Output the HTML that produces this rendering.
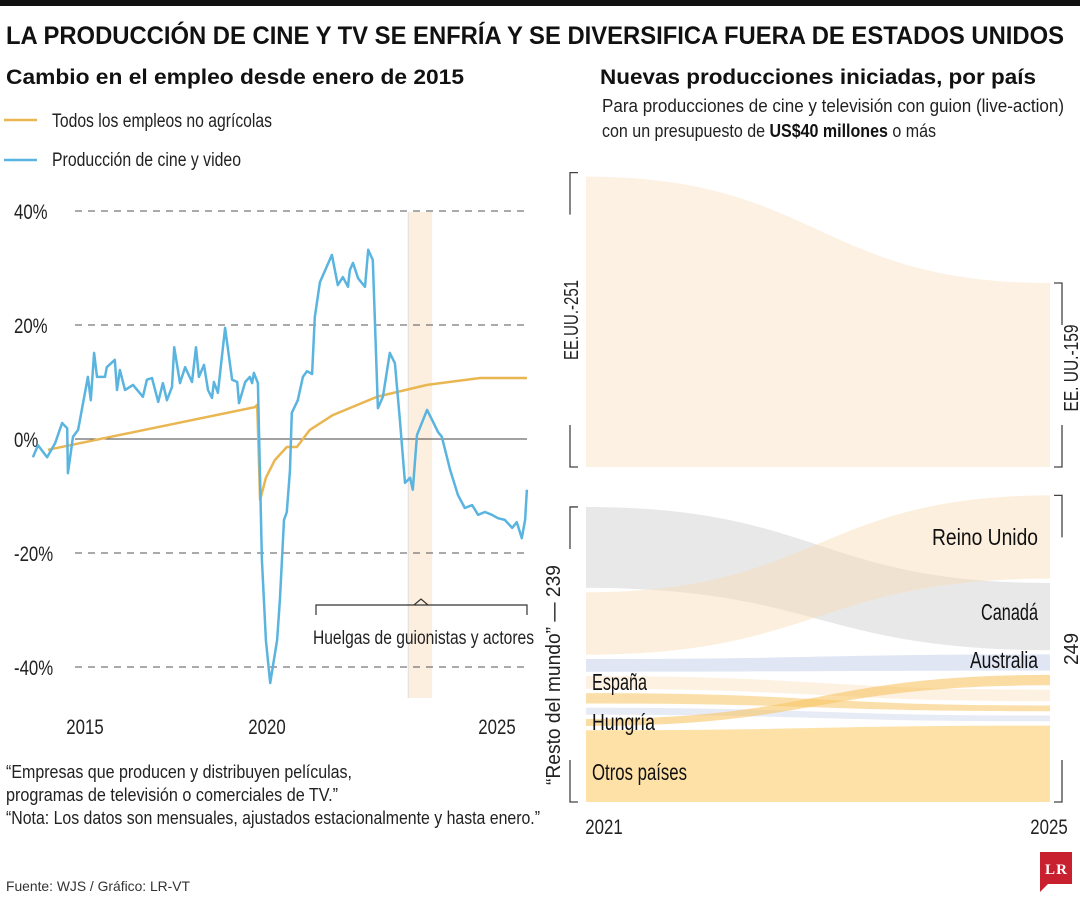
<!DOCTYPE html>
<html><head><meta charset="utf-8"><style>
html,body{margin:0;padding:0;background:#fff;}
svg{display:block;font-family:"Liberation Sans Narrow","Liberation Sans",sans-serif;}
.b{font-family:"Liberation Sans",sans-serif;font-weight:bold;}
</style></head><body>
<svg id="chart" width="1080" height="900" viewBox="0 0 1080 900">
<rect x="0" y="0" width="1080" height="6" fill="#111"/>
<text x="6" y="44" class="b" font-size="25" fill="#111" textLength="1058" lengthAdjust="spacingAndGlyphs">LA PRODUCCIÓN DE CINE Y TV SE ENFRÍA Y SE DIVERSIFICA FUERA DE ESTADOS UNIDOS</text>
<text x="6" y="84" class="b" font-size="21" fill="#111" textLength="458" lengthAdjust="spacingAndGlyphs">Cambio en el empleo desde enero de 2015</text>
<text x="600" y="84" class="b" font-size="21" fill="#111" textLength="436" lengthAdjust="spacingAndGlyphs">Nuevas producciones iniciadas, por país</text>
<text x="602" y="112" font-size="18" fill="#222" textLength="462" lengthAdjust="spacingAndGlyphs">Para producciones de cine y televisión con guion (live-action)</text>
<text x="602" y="137" font-size="18" fill="#222" textLength="334" lengthAdjust="spacingAndGlyphs">con un presupuesto de <tspan font-weight="bold" fill="#111">US$40 millones</tspan> o más</text>
<g>
<line x1="4" y1="120" x2="37" y2="120" stroke="#e9b651" stroke-width="2.5"/>
<text x="52" y="127" font-size="19" fill="#222" textLength="220" lengthAdjust="spacingAndGlyphs">Todos los empleos no agrícolas</text>
<line x1="4" y1="160" x2="37" y2="160" stroke="#5ab4e0" stroke-width="2.5"/>
<text x="52" y="166" font-size="19" fill="#222" textLength="189" lengthAdjust="spacingAndGlyphs">Producción de cine y video</text>
</g>
<g id="left"></g>
<g id="right"></g>
<text x="6" y="778" font-size="18" fill="#222" textLength="346" lengthAdjust="spacingAndGlyphs">“Empresas que producen y distribuyen películas,</text>
<text x="6" y="801" font-size="18" fill="#222" textLength="332" lengthAdjust="spacingAndGlyphs">programas de televisión o comerciales de TV.”</text>
<text x="6" y="824" font-size="18" fill="#222" textLength="534" lengthAdjust="spacingAndGlyphs">“Nota: Los datos son mensuales, ajustados estacionalmente y hasta enero.”</text>
<text x="6" y="891" font-size="14" fill="#333" textLength="184" lengthAdjust="spacingAndGlyphs">Fuente: WJS / Gráfico: LR-VT</text>
<g><rect x="1040" y="852" width="32" height="32" fill="#c8202f"/><text x="1056" y="874" text-anchor="middle" font-family="Liberation Serif,serif" font-weight="bold" font-size="15" fill="#fff" textLength="22">LR</text><path d="M1040 884 L1048 884 L1040 892 Z" fill="#c8202f"/></g>
</svg>
<script>
// ---- Left chart data ----
const yTicks = [40, 20, 0, -20, -40];
const yTickLabels = ["40%", "20%", "0%", "-20%", "-40%"];
const xTickYears = [2015, 2020, 2025];
const xTickLabels = ["2015", "2020", "2025"];
const filmT = [2013.57,2013.71,2013.96,2014.18,2014.37,2014.51,2014.53,2014.67,2014.81,2015.08,2015.16,2015.25,2015.33,2015.55,2015.60,2015.82,2015.88,2015.96,2016.10,2016.32,2016.59,2016.70,2016.84,2017.01,2017.14,2017.25,2017.39,2017.45,2017.61,2017.75,2017.94,2018.05,2018.13,2018.27,2018.38,2018.49,2018.54,2018.65,2018.85,2019.04,2019.18,2019.23,2019.40,2019.53,2019.59,2019.64,2019.75,2019.86,2019.97,2020.07,2020.22,2020.28,2020.37,2020.43,2020.50,2020.54,2020.67,2020.78,2020.87,2020.98,2021.04,2021.15,2021.41,2021.54,2021.65,2021.76,2021.80,2021.87,2021.98,2022.13,2022.20,2022.30,2022.41,2022.52,2022.67,2022.78,2022.89,2023.00,2023.11,2023.17,2023.26,2023.48,2023.61,2023.72,2023.80,2023.98,2024.15,2024.30,2024.46,2024.59,2024.74,2024.89,2025.02,2025.17,2025.33,2025.43,2025.54,2025.61,2025.65];
const filmV = [-3.2,-1.1,-3.2,-0.7,2.8,1.9,-6.0,0.4,1.6,10.9,6.8,15.1,10.9,10.9,12.6,13.9,8.6,12.1,8.6,9.5,7.4,10.4,10.7,6.5,9.8,6.8,9.1,16.1,9.8,12.6,10.0,16.1,10.9,13.0,8.6,7.2,10.0,8.1,19.5,10.4,10.0,6.3,10.0,10.9,9.8,11.6,9.8,-21.2,-35.3,-42.8,-35.3,-28.2,-14.2,-12.8,-5.4,4.6,6.8,10.9,11.9,11.4,21.4,27.5,32.3,27.0,28.4,26.7,29.6,30.9,28.2,26.7,33.2,31.4,5.4,7.4,15.1,13.3,3.3,-7.7,-6.8,-8.9,0.7,5.1,3.0,1.2,0.4,-5.4,-9.8,-12.1,-11.6,-13.3,-12.8,-13.3,-13.9,-14.2,-15.6,-14.6,-17.4,-14.2,-8.9];
const allT = [2013.98,2019.67,2019.73,2019.81,2019.97,2020.17,2020.43,2020.65,2020.93,2021.43,2022.39,2023.48,2024.63,2025.65];
const allV = [-1.9,5.6,6.0,-10.7,-6.8,-3.7,-1.4,-1.4,1.6,4.2,7.4,9.5,10.7,10.7];
const strikeStart = 2023.07, strikeEnd = 2023.59;

// ---- Right chart data ----
const usValues = [251, 159];
const rowTotals = [239, 249];
const countries = ["Canadá","Reino Unido","Australia","España","Otro A","Otro B","Hungría","Otros países"];
const values2021 = [70,54,11,11,9,6,6,62];
const values2025 = [58,72,14,10,5,5,9,66];
const order2021 = [0,1,2,3,4,5,6,7];
const order2025 = [1,0,2,6,3,4,5,7];
const bandColors = ["rgba(200,200,200,0.42)","rgba(250,220,180,0.45)","rgba(200,210,235,0.55)","rgba(250,220,180,0.4)","rgba(248,196,100,0.55)","rgba(200,210,235,0.45)","rgba(248,196,100,0.6)","rgba(253,220,150,0.85)"];

const NS="http://www.w3.org/2000/svg";
function mk(tag, attrs, parent){const e=document.createElementNS(NS,tag);for(const k in attrs)e.setAttribute(k,attrs[k]);parent.appendChild(e);return e;}

const xDom=[2013, 2015, 2020, 2025, 2026], xRng=[12.2, 85, 267, 497, 543];
function xs(t){for(let i=0;i<xDom.length-1;i++){if(t<=xDom[i+1]||i===xDom.length-2){return xRng[i]+(t-xDom[i])/(xDom[i+1]-xDom[i])*(xRng[i+1]-xRng[i]);}}}
function ys(v){return 439-v*5.7;}

const L=document.getElementById('left');
let sb=mk('rect',{x:xs(strikeStart),y:212,width:xs(strikeEnd)-xs(strikeStart),height:486,fill:'#fcefdf'},L);


mk('line',{x1:xs(strikeStart),y1:212,x2:xs(strikeStart),y2:698,stroke:'#ddd','stroke-width':1},L);
yTicks.forEach((v,i)=>{
  const g=mk('line',{x1:75,x2:527,y1:ys(v),y2:ys(v),stroke:v===0?'#444':'#555','stroke-width':1,'stroke-dasharray':v===0?'none':'7,6'},L);
  
  
  const t=mk('text',{x:14,y:ys(v)+8,'font-size':21,fill:'#222'},L);
  t.textContent=yTickLabels[i];
  
  
});
xTickYears.forEach((y,i)=>{
  const t=mk('text',{x:xs(y),y:734,'font-size':21,fill:'#222','text-anchor':'middle'},L);
  t.textContent=xTickLabels[i];
  
  
});
const br=mk('path',{d:'M316 615 V605 H527 V615 M414 605 L421 599 L428 605',fill:'none',stroke:'#333','stroke-width':1.2},L);


const bt=mk('text',{x:313,y:644,'font-size':19,fill:'#222',textLength:221,lengthAdjust:'spacingAndGlyphs'},L);
bt.textContent='Huelgas de guionistas y actores';


function pathOf(T,V){return T.map((t,i)=>(i?'L':'M')+xs(t).toFixed(1)+' '+ys(V[i]).toFixed(1)).join(' ');}
const la=mk('path',{d:pathOf(allT,allV),fill:'none',stroke:'#e9b651','stroke-width':2.5,'stroke-linejoin':'round'},L);


const lf=mk('path',{d:pathOf(filmT,filmV),fill:'none',stroke:'#5ab4e0','stroke-width':2.5,'stroke-linejoin':'round'},L);



// ---- Right chart ----
const R=document.getElementById('right');
const X0=586, X1=1050, K=1.157, GAP=4.3, BASE=802, USB=467;
function flow(xa,ya0,ya1,xb,yb0,yb1){const m=(xa+xb)/2;return `M${xa} ${ya0} C${m} ${ya0} ${m} ${yb0} ${xb} ${yb0} L${xb} ${yb1} C${m} ${yb1} ${m} ${ya1} ${xa} ${ya1} Z`;}
const usp=mk('path',{d:flow(X0,USB-usValues[0]*K,USB,X1,USB-usValues[1]*K,USB),fill:'#fdf1e3'},R);


function stack(vals,ord){const pos={};let y=BASE;for(let i=ord.length-1;i>=0;i--){const c=ord[i];const h=vals[c]*K;pos[c]=[y-h,y];y-=h+GAP;}return pos;}
const p21=stack(values2021,order2021), p25=stack(values2025,order2025);
const drawOrder=[7,0,1,2,3,5,4,6];
drawOrder.forEach(c=>{
  const p=mk('path',{d:flow(X0,p21[c][0],p21[c][1],X1,p25[c][0],p25[c][1]),fill:bandColors[c]},R);
  
  
});
function brk(x,y0,y1,dir,name){const b=mk('path',{d:`M${x+dir*8} ${y0} H${x} V${y0+42} M${x} ${y1-42} V${y1} H${x+dir*8}`,fill:'none',stroke:'#444','stroke-width':1.3},R);}
brk(570,USB-usValues[0]*K-4,USB,1,'us-2021-bracket');
brk(1062,USB-usValues[1]*K,USB,-1,'us-2025-bracket');
brk(570,p21[0][0],BASE,1,'row-2021-bracket');
brk(1062,p25[1][0],BASE,-1,'row-2025-bracket');
function vtext(x,y,txt,name,len){const t=mk('text',{x:x,y:y,'font-size':20,fill:'#222','text-anchor':'middle',transform:`rotate(-90 ${x} ${y})`,textLength:len,lengthAdjust:'spacingAndGlyphs'},R);t.textContent=txt;}
vtext(578,320,'EE.UU.-'+usValues[0],'us-2021-label',80);
vtext(1078,368,'EE. UU.-'+usValues[1],'us-2025-label',87);
vtext(560,675,'“Resto del mundo” — '+rowTotals[0],'row-2021-label',220);
vtext(1078,649,String(rowTotals[1]),'row-2025-label',32);
function lab(x,y,txt,anchor,name,len){const t=mk('text',{x:x,y:y,'font-size':23,fill:'#111','text-anchor':anchor,textLength:len,lengthAdjust:'spacingAndGlyphs'},R);t.textContent=txt;}
lab(1038,545,'Reino Unido','end','label-reino-unido',106);
lab(1038,620,'Canadá','end','label-canada',57);
lab(1038,668,'Australia','end','label-australia',68);
lab(592,690,'España','start','label-espana',55);
lab(592,730,'Hungría','start','label-hungria',63);
lab(592,780,'Otros países','start','label-otros-paises',95);
const y1=mk('text',{x:604,y:834,'font-size':21,fill:'#222','text-anchor':'middle'},R);y1.textContent='2021';


const y2=mk('text',{x:1049,y:834,'font-size':21,fill:'#222','text-anchor':'middle'},R);y2.textContent='2025';


// condense remaining plain texts to mimic narrow font
document.querySelectorAll('#chart text').forEach(t=>{
  if(!t.hasAttribute('textLength')){const w=t.getComputedTextLength();t.setAttribute('textLength',(w*0.8).toFixed(1));t.setAttribute('lengthAdjust','spacingAndGlyphs');}
});
</script>
</body></html>
